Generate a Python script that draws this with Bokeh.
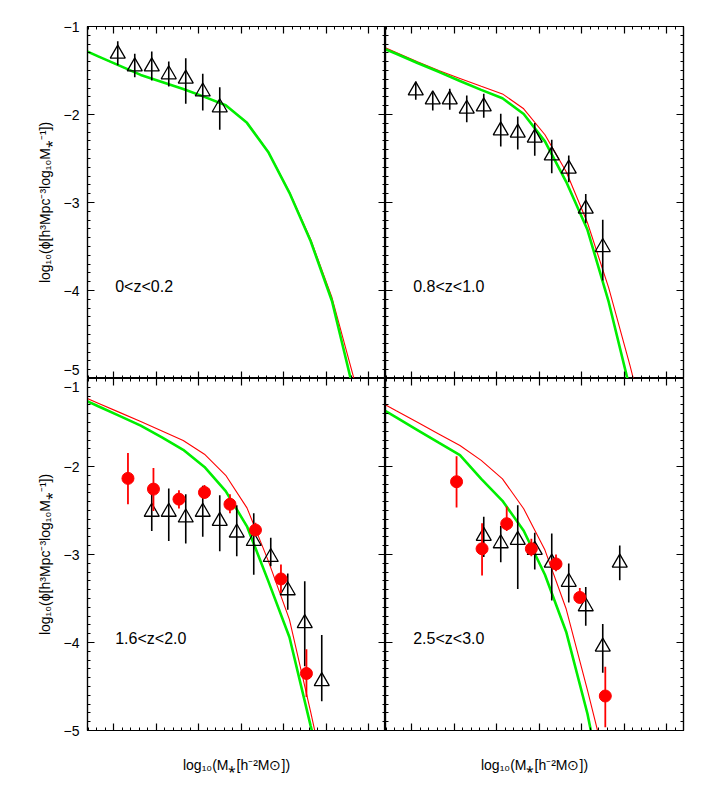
from bokeh.plotting import figure
from bokeh.layouts import gridplot
from bokeh.models import LinearAxis, SingleIntervalTicker, Range1d, CustomJSTickFormatter
from bokeh.core.properties import value
from bokeh.embed import file_html
from bokeh.resources import INLINE

# ---------------- data ----------------
# model curves: common stellar-mass grid
m_grid = [8.07, 8.32, 8.57, 8.82, 9.07, 9.32, 9.57, 9.82, 10.07, 10.32, 10.57, 10.82, 11.07, 11.32, 11.57]

red_A = [-1.23, -1.34, -1.445, -1.55, -1.63, -1.71, -1.80, -1.895, -2.09, -2.42, -2.88, -3.42, -4.08, -4.97, -5.9]
green_A = [-1.23, -1.34, -1.445, -1.55, -1.63, -1.71, -1.80, -1.895, -2.095, -2.425, -2.89, -3.44, -4.12, -5.12, -6.1]

red_B = [-1.19, -1.296, -1.40, -1.50, -1.59, -1.68, -1.766, -1.935, -2.23, -2.65, -3.23, -3.97, -4.85, -5.8, -6.8]
green_B = [-1.21, -1.31, -1.415, -1.515, -1.62, -1.72, -1.815, -1.995, -2.305, -2.765, -3.31, -4.13, -5.12, -6.1, -7.1]

red_C = [-1.177, -1.281, -1.385, -1.489, -1.597, -1.705, -1.86, -2.10, -2.47, -3.07, -3.74, -4.79, -5.9, -7.0, -8.0]
green_C = [-1.204, -1.315, -1.425, -1.536, -1.67, -1.81, -2.005, -2.28, -2.68, -3.30, -3.94, -4.95, -5.9, -7.0, -8.0]

red_D = [-1.235, -1.367, -1.498, -1.63, -1.762, -1.93, -2.14, -2.48, -2.95, -3.62, -4.54, -5.51, -6.5, -7.5, -8.5]
green_D = [-1.30, -1.443, -1.587, -1.73, -1.87, -2.14, -2.39, -2.73, -3.23, -3.88, -4.81, -6.0, -7.0, -8.0, -9.0]

# observational points (open triangles)
tri_x_A = [8.55, 8.75, 8.95, 9.15, 9.35, 9.55, 9.75]
tri_y_A = [-1.31, -1.455, -1.455, -1.545, -1.595, -1.74, -1.92]
tri_lo_A = [-1.44, -1.576, -1.614, -1.682, -1.879, -1.955, -2.174]
tri_hi_A = [-1.167, -1.31, -1.284, -1.398, -1.36, -1.538, -1.689]

tri_x_B = [8.55, 8.75, 8.95, 9.15, 9.35, 9.55, 9.75, 9.95, 10.15, 10.35, 10.55, 10.75]
tri_y_B = [-1.727, -1.83, -1.83, -1.936, -1.909, -2.182, -2.208, -2.265, -2.466, -2.617, -3.072, -3.508]
tri_lo_B = [-1.833, -1.955, -1.947, -2.087, -2.038, -2.364, -2.398, -2.47, -2.667, -2.769, -3.235, -3.886]
tri_hi_B = [-1.625, -1.746, -1.708, -1.784, -1.765, -1.992, -2.023, -2.098, -2.288, -2.466, -2.902, -3.197]

tri_x_C = [8.95, 9.15, 9.35, 9.55, 9.75, 9.95, 10.15, 10.35, 10.55, 10.75, 10.95]
tri_y_C = [-2.516, -2.516, -2.581, -2.516, -2.619, -2.752, -2.848, -3.03, -3.408, -3.781, -4.44]
tri_lo_C = [-2.733, -2.848, -2.874, -2.798, -2.962, -3.019, -3.229, -3.133, -3.629, -4.269, -4.669]
tri_hi_C = [-2.211, -2.25, -2.314, -2.219, -2.326, -2.44, -2.531, -2.81, -3.217, -3.305, -3.914]

tri_x_D = [9.35, 9.55, 9.75, 9.95, 10.15, 10.35, 10.55, 10.75, 10.95]
tri_y_D = [-2.79, -2.874, -2.836, -2.95, -3.095, -3.312, -3.59, -4.048, -3.095]
tri_lo_D = [-3.027, -3.088, -3.392, -3.171, -3.522, -3.545, -3.811, -4.345, -3.293]
tri_hi_D = [-2.57, -2.676, -2.44, -2.752, -2.76, -3.103, -3.37, -3.789, -2.897]

# observational points (filled red circles)
dot_x_C = [8.67, 8.97, 9.27, 9.57, 9.87, 10.17, 10.47, 10.77]
dot_y_C = [-2.135, -2.257, -2.371, -2.295, -2.429, -2.722, -3.278, -4.352]
dot_lo_C = [-2.429, -2.505, -2.478, -2.364, -2.531, -2.79, -3.438, -4.619]
dot_hi_C = [-1.846, -2.017, -2.269, -2.211, -2.314, -2.638, -3.114, -4.078]

dot_x_D = [9.03, 9.33, 9.62, 9.91, 10.20, 10.48, 10.78]
dot_y_D = [-2.173, -2.935, -2.65, -2.935, -3.107, -3.488, -4.608]
dot_lo_D = [-2.467, -3.24, -2.733, -3.019, -3.19, -3.545, -4.962]
dot_hi_D = [-1.884, -2.646, -2.455, -2.821, -3.0, -3.381, -4.276]

z_labels = ["0<z<0.2", "0.8<z<1.0", "1.6<z<2.0", "2.5<z<3.0"]
y_ticks = [-5, -4, -3, -2, -1]
x_title = "log₁₀(M⁎[h⁻²M⊙])"
y_title = "log₁₀(ϕ[h³Mpc⁻³log₁₀M⁎⁻¹])"

# ---------------- plotting ----------------
X0, X1 = 8.194, 11.70
FW, FH = 298, 352
TICK_FONT = "Liberation Sans"
TITLE_FONT = "Liberation Sans"

def blank_formatter():
    return CustomJSTickFormatter(code="return ''")

def style_axis(ax, is_x, show_labels):
    if is_x:
        ax.ticker = SingleIntervalTicker(interval=0.5, num_minor_ticks=5)
    else:
        ax.ticker = SingleIntervalTicker(interval=1, num_minor_ticks=10)
    ax.axis_line_color = "black"
    ax.axis_line_width = 1.2
    ax.major_tick_line_color = "black"
    ax.minor_tick_line_color = "black"
    ax.major_tick_line_width = 1.2
    ax.minor_tick_line_width = 1
    ax.major_tick_in = 7
    ax.major_tick_out = 0
    ax.minor_tick_in = 3
    ax.minor_tick_out = 0
    if not show_labels:
        ax.formatter = blank_formatter()
        ax.major_label_text_font_size = "0px"
        ax.major_label_standoff = 0
    else:
        ax.major_label_text_font = TICK_FONT
        ax.major_label_text_font_size = "14px"
        ax.major_label_text_color = "black"
        ax.major_label_standoff = 8
        ax.major_label_text_line_height = 0.01
    ax.axis_label_text_font = TITLE_FONT
    ax.axis_label_text_font_style = "normal"
    ax.axis_label_text_font_size = "14px"
    ax.axis_label_text_color = "black"


def make_panel(col, row, label, red, green, tri, dots):
    left = col == 0
    bottom = row == 1
    p = figure(
        frame_width=FW, frame_height=FH,
        x_range=Range1d(X0, X1), y_range=Range1d(-5, -1),
        output_backend="svg", toolbar_location=None,
        min_border_left=87 if left else 0,
        min_border_right=0 if left else 14,
        min_border_top=26 if row == 0 else 0,
        min_border_bottom=50 if bottom else 0,
        background_fill_color="white", border_fill_color="white",
    )
    p.grid.visible = False
    p.outline_line_color = "black"
    p.outline_line_width = 1.2

    # main axes
    xa = p.xaxis[0]
    ya = p.yaxis[0]
    style_axis(xa, True, False)
    style_axis(ya, False, left)
    if left:
        ov = {v: "−%d" % abs(v) for v in y_ticks}
        if row == 0:
            ov[-5] = "−5\n"
        else:
            ov[-1] = "\n−1"
        ya.major_label_overrides = ov
        ya.axis_label = y_title
        ya.axis_label_standoff = 8
    if bottom:
        xa.axis_label = x_title
        xa.axis_label_standoff = 26
    # mirrored axes
    ra = LinearAxis()
    style_axis(ra, False, False)
    p.add_layout(ra, "right")
    ta = LinearAxis()
    style_axis(ta, True, False)
    p.add_layout(ta, "above")

    # model curves
    p.line(m_grid, red, line_color="#ff0000", line_width=1.1)
    p.line(m_grid, green, line_color="#00ee00", line_width=2.6)

    # triangles with error bars
    tx, ty, tlo, thi = tri
    p.segment(x0=tx, y0=tlo, x1=tx, y1=thi, line_color="black", line_width=1.6)
    p.scatter(tx, ty, marker="triangle", size=15, fill_color=None,
              line_color="black", line_width=1.3)

    if dots is not None:
        dx, dy, dlo, dhi = dots
        p.segment(x0=dx, y0=dlo, x1=dx, y1=dhi, line_color="#ff0000", line_width=1.8)
        p.scatter(dx, dy, marker="circle", size=12, fill_color="#ff0000",
                  line_color="#ff0000")

    p.text(x=[8.52], y=[-3.96], text=[label], text_font=value(TICK_FONT),
           text_font_size="16px", text_color="black",
           text_align="left", text_baseline="middle")
    return p


pA = make_panel(0, 0, z_labels[0], red_A, green_A,
                (tri_x_A, tri_y_A, tri_lo_A, tri_hi_A), None)
pB = make_panel(1, 0, z_labels[1], red_B, green_B,
                (tri_x_B, tri_y_B, tri_lo_B, tri_hi_B), None)
pC = make_panel(0, 1, z_labels[2], red_C, green_C,
                (tri_x_C, tri_y_C, tri_lo_C, tri_hi_C),
                (dot_x_C, dot_y_C, dot_lo_C, dot_hi_C))
pD = make_panel(1, 1, z_labels[3], red_D, green_D,
                (tri_x_D, tri_y_D, tri_lo_D, tri_hi_D),
                (dot_x_D, dot_y_D, dot_lo_D, dot_hi_D))

grid = gridplot([[pA, pB], [pC, pD]], toolbar_location=None)

open("out.html", "w").write(file_html(grid, INLINE))
